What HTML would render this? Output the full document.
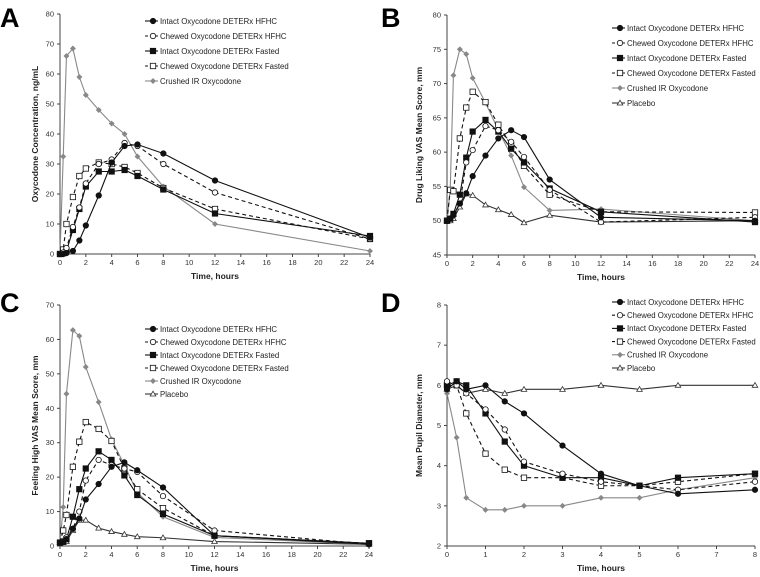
<!DOCTYPE html>
<html><head><meta charset="utf-8"><style>
body{margin:0;background:#fff;width:760px;height:572px;overflow:hidden}
svg{font-family:"Liberation Sans",Arial,sans-serif}
</style></head><body>
<svg id="c" width="760" height="572" xmlns="http://www.w3.org/2000/svg"></svg>
<script>
const timesFull=[0,0.25,0.5,1,1.5,2,3,4,5,6,8,12,24];
const timesD=[0,0.25,0.5,1,1.5,2,3,4,5,6,8];
const seriesNames=["Intact Oxycodone DETERx HFHC","Chewed Oxycodone DETERx HFHC","Intact Oxycodone DETERx Fasted","Chewed Oxycodone DETERx Fasted","Crushed IR Oxycodone","Placebo"];
const aIntactHFHC=[0,0,0.3,1,4.5,9.5,19.5,30.5,36,36.5,33.5,24.5,5.5];
const aChewedHFHC=[0,0.5,2,9,15.5,23.5,30,31.5,37,36,30,20.5,5];
const aIntactFasted=[0,0.3,1,8,15,22.5,27.5,27.5,28,26,21.5,13.5,6];
const aChewedFasted=[0,1.5,10,19,26,28.5,30.5,30,29,27,22,15,5];
const aCrushed=[0,32.5,66,68.5,59,53,48,43.5,40,32.5,22.5,10,1];
const bIntactHFHC=[50,50.3,50.8,52.5,54,56.5,59.5,62,63.2,62.2,56,50.5,50];
const bChewedHFHC=[50,50.3,50.8,52.5,58.5,60.3,63.8,63.2,61.5,59.3,54.5,49.8,50.5];
const bIntactFasted=[50,50.3,51,53.8,59.2,63,64.7,63,60.5,58.5,54.7,51.3,49.8];
const bChewedFasted=[50,54.5,54.3,62,66.5,68.8,67.3,64,61,58,53.8,51.3,51.2];
const bCrushed=[50,54.5,71.2,75,74.3,70.8,67.2,63.2,59.5,54.9,51.5,51.7,50];
const bPlacebo=[50,50,50.3,52,53.9,53.7,52.3,51.6,50.9,49.7,50.8,49.8,50];
const cIntactHFHC=[1,1.2,2,5,8,13.5,18,23,24.3,22,17,3,0.5];
const cChewedHFHC=[1,1.5,2.5,5,10,19,25,23.5,22.5,21.5,14.5,4.5,0.5];
const cIntactFasted=[1,1.3,2,8.5,16.5,22.5,27.5,25,20.5,14.8,9.3,3,0.8];
const cChewedFasted=[1,4.5,9,23,30.3,36,34,30.5,22.5,16.5,11,3,0.8];
const cCrushed=[1,11.3,44.2,62.7,61,52,41.8,31,23.5,15.5,8.5,2.5,0.5];
const cPlacebo=[1,1,1.3,4.5,7.5,7.5,5.2,4.2,3.4,2.7,2.4,1.3,0.5];
const dIntactHFHC=[5.9,6.1,5.9,6.0,5.6,5.3,4.5,3.8,3.5,3.3,3.4];
const dChewedHFHC=[6.1,6.0,5.8,5.4,4.9,4.1,3.8,3.6,3.5,3.4,3.6];
const dIntactFasted=[6.0,6.1,6.0,5.3,4.6,4.0,3.7,3.7,3.5,3.7,3.8];
const dChewedFasted=[6.0,6.0,5.3,4.3,3.9,3.7,3.7,3.5,3.5,3.6,3.8];
const dCrushed=[5.8,4.7,3.2,2.9,2.9,3.0,3.0,3.2,3.2,3.4,3.7];
const dPlacebo=[5.9,6.0,5.8,5.9,5.8,5.9,5.9,6.0,5.9,6.0,6.0];
const xTicks24=[0,2,4,6,8,10,12,14,16,18,20,22,24];
const xTicks8=[0,1,2,3,4,5,6,7,8];
const yTicksA=[0,10,20,30,40,50,60,70,80];
const yTicksB=[45,50,55,60,65,70,75,80];
const yTicksC=[0,10,20,30,40,50,60,70];
const yTicksD=[2,3,4,5,6,7,8];

const NS="http://www.w3.org/2000/svg";
const svg=document.getElementById('c');
function el(tag,attrs,parent,text){const e=document.createElementNS(NS,tag);for(const k in attrs)e.setAttribute(k,attrs[k]);if(text!==undefined)e.textContent=text;(parent||svg).appendChild(e);return e;}
const styles=[
 {stroke:"#111",dash:"",marker:"circle",fill:"#111"},
 {stroke:"#111",dash:"4,3",marker:"circle",fill:"#fff"},
 {stroke:"#111",dash:"",marker:"square",fill:"#111"},
 {stroke:"#111",dash:"4,3",marker:"square",fill:"#fff"},
 {stroke:"#888",dash:"",marker:"diamond",fill:"#888"},
 {stroke:"#333",dash:"",marker:"triangle",fill:"#fff"}];
function marker(g,kind,x,y,s){
 let m;
 if(kind==="circle")m=el('circle',{cx:x,cy:y,r:2.7},g);
 else if(kind==="square")m=el('rect',{x:x-2.7,y:y-2.7,width:5.4,height:5.4},g);
 else if(kind==="diamond")m=el('polygon',{points:`${x},${y-2.4} ${x+2.4},${y} ${x},${y+2.4} ${x-2.4},${y}`},g);
 else m=el('polygon',{points:`${x},${y-2.8} ${x+2.8},${y+2} ${x-2.8},${y+2}`},g);
 m.setAttribute('fill',s.fill);m.setAttribute('stroke',s.stroke);m.setAttribute('stroke-width','0.8');
 return m;
}
function panel(p){
 const g=el('g',{},svg);
 
 
 const sx=v=>p.x0+(v-p.xmin)/(p.xmax-p.xmin)*(p.x1-p.x0);
 const sy=v=>p.y0-(v-p.ymin)/(p.ymax-p.ymin)*(p.y0-p.y1);
 const L=el('text',{x:p.lx,y:p.ly,'font-size':27,'font-weight':'bold',fill:'#000'},g,p.letter);
 
 const ax=el('g',{},g);
 el('line',{x1:p.x0,y1:p.y0,x2:p.x1,y2:p.y0,stroke:'#444','stroke-width':1},ax);
 el('line',{x1:p.x0,y1:p.y0,x2:p.x0,y2:p.y1,stroke:'#444','stroke-width':1},ax);
 p.xt.forEach(t=>{const x=sx(t);el('line',{x1:x,y1:p.y0,x2:x,y2:p.y0+3,stroke:'#444'},ax);
  const tx=el('text',{x:x,y:p.y0+11,'font-size':7.5,'text-anchor':'middle',fill:'#333'},ax,t);
  });
 p.yt.forEach(t=>{const y=sy(t);el('line',{x1:p.x0-3,y1:y,x2:p.x0,y2:y,stroke:'#444'},ax);
  const tx=el('text',{x:p.x0-6,y:y+2.5,'font-size':7.5,'text-anchor':'end',fill:'#333'},ax,t);
  });
 const xt=el('text',{x:(p.x0+p.x1)/2,y:p.y0+25,'font-size':8.5,'font-weight':'bold','text-anchor':'middle',fill:'#222'},g,'Time, hours');
 
 const yc=(p.y0+p.y1)/2;
 const yt=el('text',{x:p.ytx,y:yc,'font-size':8.5,'font-weight':'bold','text-anchor':'middle',fill:'#222',transform:`rotate(-90 ${p.ytx} ${yc})`},g,p.ytitle);
 
 const order=[5,4,3,2,1,0];
 order.forEach(i=>{const ys=p.data[i];if(!ys)return;const s=styles[i];
  const sg=el('g',{},g);
  const pts=p.times.map((t,k)=>sx(t)+','+sy(ys[k])).join(' ');
  el('polyline',{points:pts,fill:'none',stroke:s.stroke,'stroke-width':1.1,'stroke-dasharray':s.dash},sg);
  p.times.forEach((t,k)=>{const m=marker(sg,s.marker,sx(t),sy(ys[k]),s);});
 });
 const lg=el('g',{},g);
 p.data.forEach((ys,i)=>{if(!ys)return;const s=styles[i];const y=p.legY+i*p.legDy;
  const eg=el('g',{},lg);
  el('line',{x1:p.legX,y1:y,x2:p.legX+13,y2:y,stroke:s.stroke,'stroke-width':1.1,'stroke-dasharray':s.dash?'3,2':''},eg);
  marker(eg,s.marker,p.legX+8,y,s);
  el('text',{x:p.legX+15,y:y+2.8,'font-size':7.8,fill:'#222'},eg,seriesNames[i]);
 });
}
panel({letter:'A',lx:0,ly:27,x0:60,x1:370,y0:254,y1:14,xmin:0,xmax:24,ymin:0,ymax:80,xt:xTicks24,yt:yTicksA,times:timesFull,
 data:[aIntactHFHC,aChewedHFHC,aIntactFasted,aChewedFasted,aCrushed,null],ytx:38,ytitle:'Oxycodone Concentration, ng/mL',legX:145,legY:21,legDy:15});
panel({letter:'B',lx:381,ly:27,x0:447,x1:755,y0:255,y1:15,xmin:0,xmax:24,ymin:45,ymax:80,xt:xTicks24,yt:yTicksB,times:timesFull,
 data:[bIntactHFHC,bChewedHFHC,bIntactFasted,bChewedFasted,bCrushed,bPlacebo],ytx:422,ytitle:'Drug Liking VAS Mean Score, mm',legX:612,legY:28,legDy:15});
panel({letter:'C',lx:0,ly:312,x0:60,x1:369,y0:546,y1:305,xmin:0,xmax:24,ymin:0,ymax:70,xt:xTicks24,yt:yTicksC,times:timesFull,
 data:[cIntactHFHC,cChewedHFHC,cIntactFasted,cChewedFasted,cCrushed,cPlacebo],ytx:38,ytitle:'Feeling High VAS Mean Score, mm',legX:145,legY:329,legDy:13});
panel({letter:'D',lx:381,ly:312,x0:447,x1:755,y0:546,y1:305,xmin:0,xmax:8,ymin:2,ymax:8,xt:xTicks8,yt:yTicksD,times:timesD,
 data:[dIntactHFHC,dChewedHFHC,dIntactFasted,dChewedFasted,dCrushed,dPlacebo],ytx:422,ytitle:'Mean Pupil Diameter, mm',legX:612,legY:302,legDy:13.2});
</script>
</body></html>
